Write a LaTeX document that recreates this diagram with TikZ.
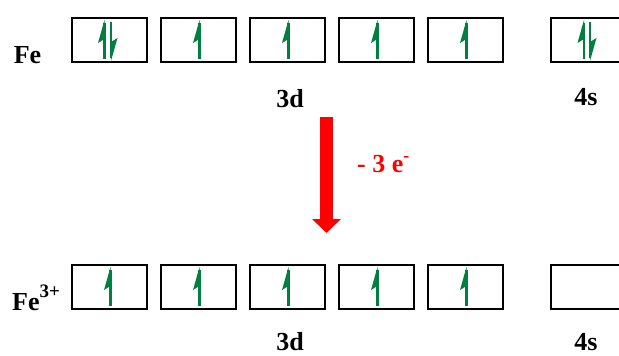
\documentclass[tikz,border=0pt]{standalone}
\usepackage{fontspec}
\setmainfont{Liberation Serif}
\usetikzlibrary{arrows.meta}
\definecolor{spingreen}{RGB}{0,128,64}

\begin{document}
\begin{tikzpicture}[x=1pt,y=-1pt,
        orb/.style={draw,line width=1.8pt,minimum width=75pt,minimum height=44pt,inner sep=0pt},
        lbl/.style={font=\fontsize{26}{28}\selectfont\bfseries,inner sep=0pt},
        spinup/.pic={\fill[spingreen] (-1.3,19) rectangle (1.3,-17);
            \fill[spingreen] (0,-20) -- (-6.5,3) -- (0,-1) -- cycle;}]
    \useasboundingbox (0,0) rectangle (619,356);
    % Fe: 3d6 4s2
    \foreach \i in {1,...,5}
        \node[orb] (d\i) at ({20.5+89*\i},40) {};
    \node[orb] (s) at (588.5,40) {};
    \node[lbl,anchor=base] (fe) at (27.5,63) {Fe};
    \node[lbl,anchor=base] (td) at (290,107) {3d};
    \node[lbl,anchor=base] (ts) at (586,105) {4s};
    \pic at ([xshift=-5pt]d1.center) {spinup};
    \pic[rotate=180] at ([xshift=1.5pt,yshift=-1pt]d1.center) {spinup};
    \foreach \i in {2,...,5}
        \pic at ([xshift=1pt]d\i.center) {spinup};
    \pic at ([xshift=-4.5pt]s.center) {spinup};
    \pic[rotate=180] at ([xshift=1.5pt,yshift=-1pt]s.center) {spinup};
    % ionisation
    \coordinate (atop) at (326.5,117);
    \coordinate (abot) at (326.5,233);
    \draw[red,line width=13pt,-{Triangle[width=28pt,length=14pt]}] (atop) -- (abot);
    \node[lbl,red,anchor=base west] (loss) at (357,172) {- 3 e\raisebox{11pt}{\fontsize{18}{18}\selectfont -}};
    % Fe3+: 3d5 4s0
    \foreach \i in {1,...,5}
        \node[orb] (e\i) at ({20.5+89*\i},287) {};
    \node[orb] (t) at (588.5,287) {};
    \node[lbl,anchor=base west] (fei) at (12,310) {Fe\raisebox{13pt}{\fontsize{19}{20}\selectfont 3+}};
    \node[lbl,anchor=base] (bd) at (290,350) {3d};
    \node[lbl,anchor=base] (bs) at (586,350) {4s};
    \foreach \i in {1,...,5}
        \pic at ([xshift=1pt]e\i.center) {spinup};
\end{tikzpicture}
\end{document}
